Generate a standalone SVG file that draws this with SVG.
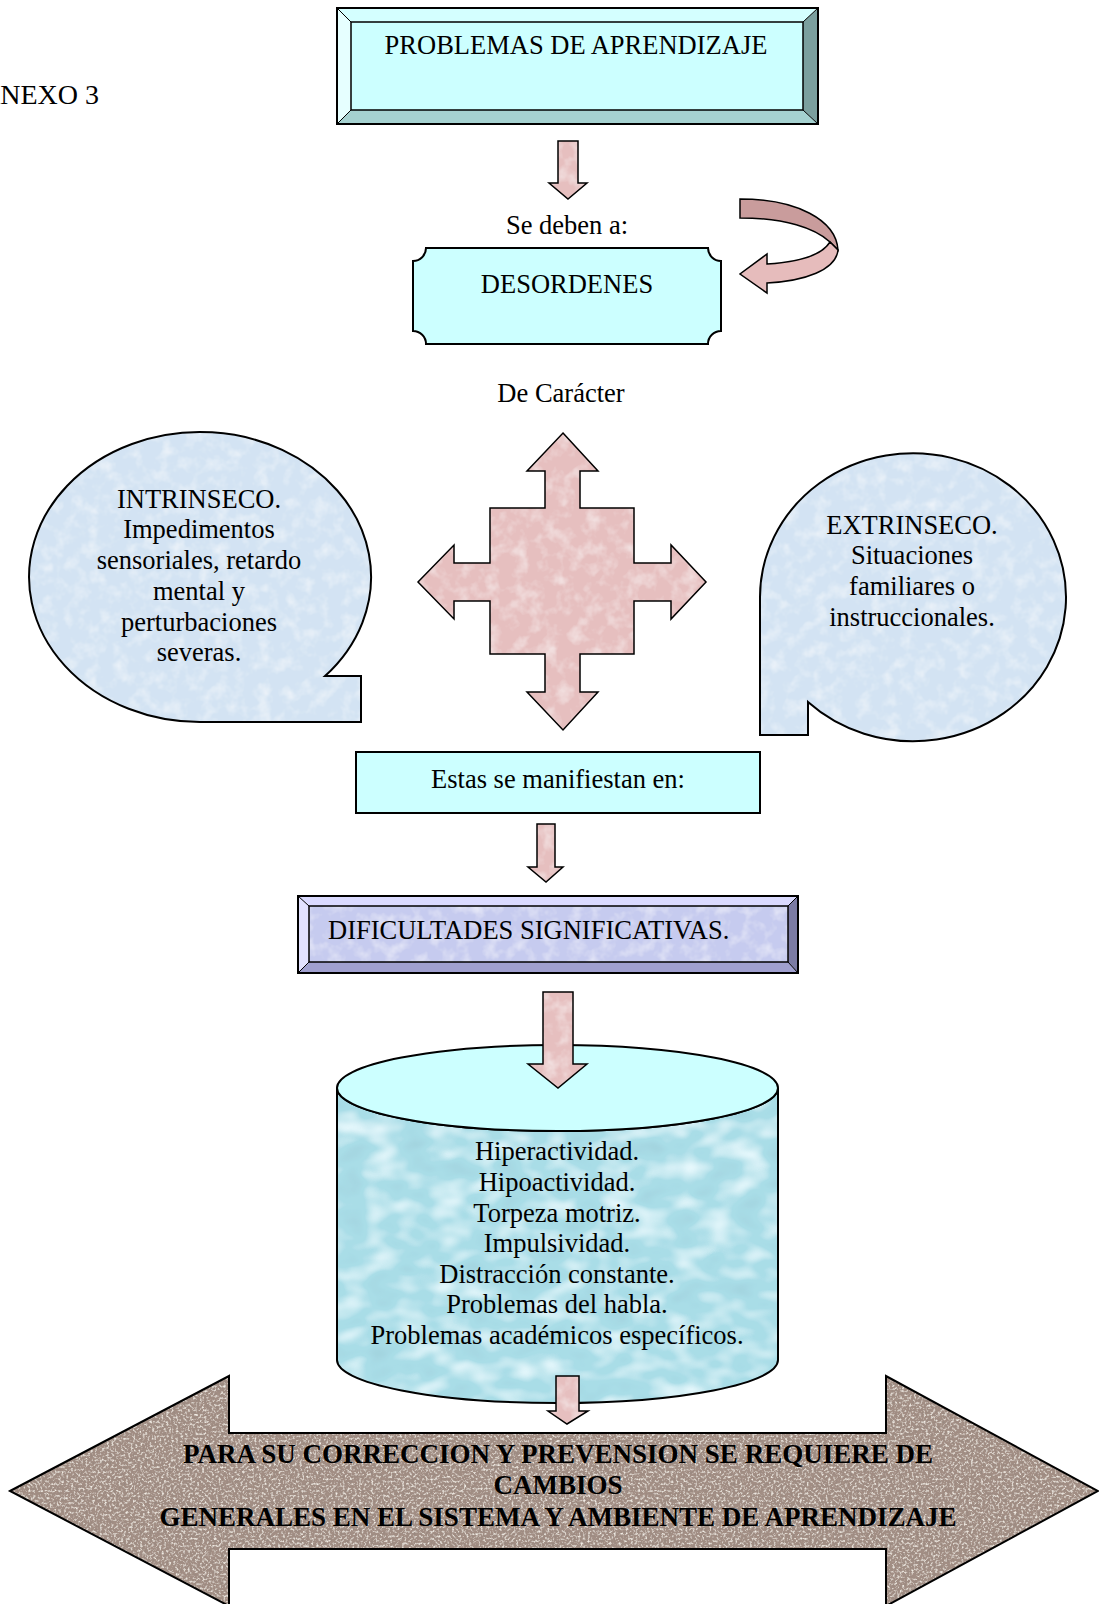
<svg xmlns="http://www.w3.org/2000/svg" width="1099" height="1604" viewBox="0 0 1099 1604">
<style>
.t{font-family:"Liberation Serif","Times New Roman",serif;font-size:26.5px;fill:#000}
.c{text-anchor:middle}
.b{font-weight:bold;font-size:27px}
.ln{fill:none;stroke:#000;stroke-width:2}
.thin{stroke:#000;stroke-width:1}
.pink{fill:#e6bfbf}
</style>
<defs>
<filter id="mottle" x="0" y="0" width="1" height="1">
<feTurbulence type="fractalNoise" baseFrequency="0.07" numOctaves="3" seed="4" result="n"/>
<feColorMatrix in="n" type="matrix" values="0 0 0 0 1  0 0 0 0 1  0 0 0 0 1  1.1 0 0 0 -0.5" result="w"/>
<feComposite in="w" in2="SourceAlpha" operator="in" result="wc"/>
<feMerge><feMergeNode in="SourceGraphic"/><feMergeNode in="wc"/></feMerge>
</filter>
<filter id="water" x="0" y="0" width="1" height="1">
<feTurbulence type="fractalNoise" baseFrequency="0.03 0.05" numOctaves="2" seed="9" result="n"/>
<feColorMatrix in="n" type="matrix" values="0 0 0 0 0.85  0 0 0 0 0.97  0 0 0 0 1  2.2 0 0 0 -1.0" result="w"/>
<feComposite in="w" in2="SourceAlpha" operator="in" result="wc"/>
<feColorMatrix in="n" type="matrix" values="0 0 0 0 0.35  0 0 0 0 0.62  0 0 0 0 0.7  -2.2 0 0 0 0.85" result="d"/>
<feComposite in="d" in2="SourceAlpha" operator="in" result="dc"/>
<feMerge><feMergeNode in="SourceGraphic"/><feMergeNode in="dc"/><feMergeNode in="wc"/></feMerge>
</filter>
<filter id="granite" x="0" y="0" width="1" height="1">
<feTurbulence type="fractalNoise" baseFrequency="0.42" numOctaves="2" seed="5" result="n"/>
<feColorMatrix in="n" type="matrix" values="0 0 0 0 0.3  0 0 0 0 0.25  0 0 0 0 0.22  -3 0 0 0 1.25" result="dk"/>
<feComposite in="dk" in2="SourceAlpha" operator="in" result="dkc"/>
<feColorMatrix in="n" type="matrix" values="0 0 0 0 0.88  0 0 0 0 0.84  0 0 0 0 0.78  3 0 0 0 -1.5" result="lt"/>
<feComposite in="lt" in2="SourceAlpha" operator="in" result="ltc"/>
<feMerge><feMergeNode in="SourceGraphic"/><feMergeNode in="dkc"/><feMergeNode in="ltc"/></feMerge>
</filter>
</defs>
<rect width="1099" height="1604" fill="#fff"/>

<text class="t" x="-20" y="104" style="font-size:28px">ANEXO 3</text>

<g id="problemas">
<polygon points="337,8 818,8 803,22 351,22" fill="#d4ffff"/>
<polygon points="337,8 351,22 351,110 337,124" fill="#e6ffff"/>
<polygon points="818,8 818,124 803,110 803,22" fill="#7b9f9e"/>
<polygon points="337,124 351,110 803,110 818,124" fill="#a5d1d0"/>
<rect x="351" y="22" width="452" height="88" fill="#ccffff"/>
<line class="thin" x1="337" y1="8" x2="351" y2="22"/>
<line class="thin" x1="818" y1="8" x2="803" y2="22"/>
<line class="thin" x1="337" y1="124" x2="351" y2="110"/>
<line class="thin" x1="818" y1="124" x2="803" y2="110"/>
<rect x="351" y="22" width="452" height="88" fill="none" stroke="#000" stroke-width="1.5"/>
<rect class="ln" x="337" y="8" width="481" height="116"/>
<text class="t c" x="576" y="54">PROBLEMAS DE APRENDIZAJE</text>
</g>

<g id="se-deben">
<text class="t c" x="567" y="234">Se deben a:</text>
</g>

<g id="desordenes">
<path d="M426,248 L708,248 A13,13 0 0 0 721,261 L721,331 A13,13 0 0 0 708,344 L426,344 A13,13 0 0 0 413,331 L413,261 A13,13 0 0 0 426,248 Z" fill="#ccffff" stroke="#000" stroke-width="2"/>
<text class="t c" x="567" y="293">DESORDENES</text>
</g>

<g id="de-caracter">
<text class="t c" x="561" y="402">De Carácter</text>
</g>

<g id="intrinseco">
<path d="M200,722 A171,145 0 1 1 325,676 L361,676 L361,722 Z" fill="#d3e3f3" filter="url(#mottle)"/>
<path class="ln" d="M200,722 A171,145 0 1 1 325,676 L361,676 L361,722 Z"/>
<text class="t c" x="199" y="508">INTRINSECO.</text>
<text class="t c" x="199" y="538">Impedimentos</text>
<text class="t c" x="199" y="569">sensoriales, retardo</text>
<text class="t c" x="199" y="600">mental y</text>
<text class="t c" x="199" y="631">perturbaciones</text>
<text class="t c" x="199" y="661">severas.</text>
</g>

<g id="extrinseco">
<path d="M760,597 A153,144 0 1 1 808,702 L808,735 L760,735 Z" fill="#d3e3f3" filter="url(#mottle)"/>
<path class="ln" d="M760,597 A153,144 0 1 1 808,702 L808,735 L760,735 Z"/>
<text class="t c" x="912" y="534">EXTRINSECO.</text>
<text class="t c" x="912" y="564">Situaciones</text>
<text class="t c" x="912" y="595">familiares o</text>
<text class="t c" x="912" y="626">instruccionales.</text>
</g>

<g id="estas">
<rect x="356" y="752" width="404" height="61" fill="#ccffff" stroke="#000" stroke-width="2"/>
<text class="t c" x="558" y="788">Estas se manifiestan en:</text>
</g>

<g id="dificultades">
<polygon points="298,896 798,896 788,906 309,906" fill="#dadaff"/>
<polygon points="298,896 309,906 309,962 298,973" fill="#e2e2ff"/>
<polygon points="798,896 798,973 788,962 788,906" fill="#7b7ba3"/>
<polygon points="298,973 309,962 788,962 798,973" fill="#a0a0cf"/>
<rect x="309" y="906" width="479" height="56" fill="#c6cbef" filter="url(#mottle)"/>
<line class="thin" x1="298" y1="896" x2="309" y2="906"/>
<line class="thin" x1="798" y1="896" x2="788" y2="906"/>
<line class="thin" x1="298" y1="973" x2="309" y2="962"/>
<line class="thin" x1="798" y1="973" x2="788" y2="962"/>
<rect x="309" y="906" width="479" height="56" fill="none" stroke="#000" stroke-width="1.5"/>
<rect class="ln" x="298" y="896" width="500" height="77"/>
<text class="t" x="328" y="939">DIFICULTADES SIGNIFICATIVAS.</text>
</g>

<g id="sintomas">
<path d="M337,1088 A220.5,43 0 0 0 778,1088 L778,1360 A220.5,43 0 0 1 337,1360 Z" fill="#a9dde7" filter="url(#water)"/>
<path class="ln" d="M337,1088 A220.5,43 0 0 0 778,1088 L778,1360 A220.5,43 0 0 1 337,1360 Z"/>
<ellipse cx="557.5" cy="1088" rx="220.5" ry="43" fill="#ccffff" stroke="#000" stroke-width="2"/>
<text class="t c" x="557" y="1160">Hiperactividad.</text>
<text class="t c" x="557" y="1191">Hipoactividad.</text>
<text class="t c" x="557" y="1222">Torpeza motriz.</text>
<text class="t c" x="557" y="1252">Impulsividad.</text>
<text class="t c" x="557" y="1283">Distracción constante.</text>
<text class="t c" x="557" y="1313">Problemas del habla.</text>
<text class="t c" x="557" y="1344">Problemas académicos específicos.</text>
</g>

<g id="conclusion">
<path d="M10,1491 L229,1376 L229,1433 L886,1433 L886,1376 L1098,1491 L886,1606 L886,1549 L229,1549 L229,1606 Z" fill="#a28e84" filter="url(#granite)"/>
<path class="ln" d="M10,1491 L229,1376 L229,1433 L886,1433 L886,1376 L1098,1491 L886,1606 L886,1549 L229,1549 L229,1606 Z"/>
<text class="t c b" x="558" y="1463">PARA SU CORRECCION Y PREVENSION SE REQUIERE DE</text>
<text class="t c b" x="558" y="1494">CAMBIOS</text>
<text class="t c b" x="558" y="1526">GENERALES EN EL SISTEMA Y AMBIENTE DE APRENDIZAJE</text>
</g>

<g id="connectors" stroke="#000" stroke-width="1.5" stroke-linejoin="miter">
<path class="pink" filter="url(#mottle)" stroke="none" d="M558,141 L578,141 L578,183 L587,183 L568,199 L549,183 L558,183 Z"/>
<path fill="none" d="M558,141 L578,141 L578,183 L587,183 L568,199 L549,183 L558,183 Z"/>
<path fill="#c99c9c" d="M740,199 C797,199 836,220 838,250 L830,242 C815,228 785,218 740,218 Z"/>
<path fill="#e6bcbc" d="M830,242 C822,255 800,262 767,264 L767,254 L740,274 L767,293 L767,283 C805,281 836,270 838,250 Z"/>
<path class="pink" filter="url(#mottle)" stroke="none" d="M563,433 L598,471 L580,471 L580,508 L634,508 L634,563 L671,563 L671,545 L706,582 L671,619 L671,601 L634,601 L634,654 L580,654 L580,692 L598,692 L563,730 L527,692 L545,692 L545,654 L490,654 L490,601 L454,601 L454,619 L418,582 L454,545 L454,563 L490,563 L490,508 L545,508 L545,471 L527,471 Z"/>
<path fill="none" d="M563,433 L598,471 L580,471 L580,508 L634,508 L634,563 L671,563 L671,545 L706,582 L671,619 L671,601 L634,601 L634,654 L580,654 L580,692 L598,692 L563,730 L527,692 L545,692 L545,654 L490,654 L490,601 L454,601 L454,619 L418,582 L454,545 L454,563 L490,563 L490,508 L545,508 L545,471 L527,471 Z"/>
<path class="pink" filter="url(#mottle)" stroke="none" d="M537,824 L555,824 L555,867 L563,867 L546,882 L528,867 L537,867 Z"/>
<path fill="none" d="M537,824 L555,824 L555,867 L563,867 L546,882 L528,867 L537,867 Z"/>
<path class="pink" filter="url(#mottle)" stroke="none" d="M543,992 L573,992 L573,1064 L587,1064 L558,1088 L528,1064 L543,1064 Z"/>
<path fill="none" d="M543,992 L573,992 L573,1064 L587,1064 L558,1088 L528,1064 L543,1064 Z"/>
<path class="pink" filter="url(#mottle)" stroke="none" d="M556,1376 L579,1376 L579,1411 L588,1411 L567,1424 L548,1411 L556,1411 Z"/>
<path fill="none" d="M556,1376 L579,1376 L579,1411 L588,1411 L567,1424 L548,1411 L556,1411 Z"/>
</g>
</svg>
